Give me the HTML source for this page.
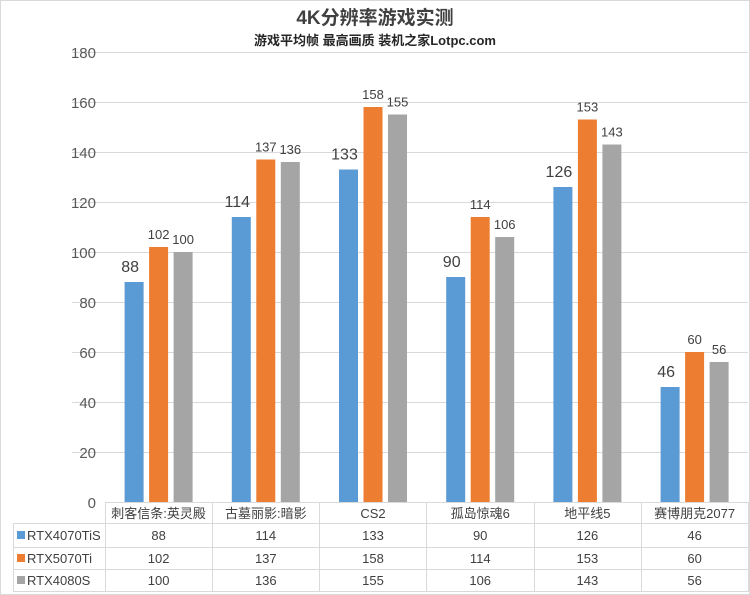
<!DOCTYPE html>
<html><head><meta charset="utf-8"><style>
body{margin:0;background:#fff}
svg{display:block;font-family:"Liberation Sans","Noto Sans CJK SC",sans-serif}
</style></head><body>
<svg width="750" height="595" viewBox="0 0 750 595" xmlns="http://www.w3.org/2000/svg">
<rect x="0.5" y="0.5" width="749" height="594" fill="#fff" stroke="#d9d9d9"/>
<text x="375" y="24" text-anchor="middle" font-size="19" font-weight="bold" fill="#404040">4K分辨率游戏实测</text>
<text x="375" y="45" text-anchor="middle" font-size="13" font-weight="bold" fill="#262626">游戏平均帧 最高画质 装机之家Lotpc.com</text>
<g stroke="#d9d9d9" stroke-width="1">
<line x1="72" x2="748" y1="52.5" y2="52.5"/><line x1="72" x2="748" y1="102.5" y2="102.5"/>
<line x1="72" x2="748" y1="152.5" y2="152.5"/><line x1="72" x2="748" y1="202.5" y2="202.5"/>
<line x1="72" x2="748" y1="252.5" y2="252.5"/><line x1="72" x2="748" y1="302.5" y2="302.5"/>
<line x1="72" x2="748" y1="352.5" y2="352.5"/><line x1="72" x2="748" y1="402.5" y2="402.5"/>
<line x1="72" x2="748" y1="452.5" y2="452.5"/>
</g>
<g font-size="15" fill="#595959" text-anchor="end">
<text x="96" y="58">180</text><text x="96" y="108">160</text><text x="96" y="158">140</text>
<text x="96" y="208">120</text><text x="96" y="258">100</text><text x="96" y="308">80</text>
<text x="96" y="358">60</text><text x="96" y="408">40</text><text x="96" y="458">20</text><text x="96" y="508">0</text>
</g>
<g id="bars"></g>
<g font-size="15" fill="#404040" text-anchor="middle" id="labels"></g>
<g stroke="#d9d9d9" fill="none">
<line x1="105" x2="748" y1="502.5" y2="502.5"/>
<line x1="13" x2="748" y1="523.5" y2="523.5"/>
<line x1="13" x2="748" y1="547.5" y2="547.5"/>
<line x1="13" x2="748" y1="569.5" y2="569.5"/>
<line x1="13" x2="748" y1="591.5" y2="591.5"/>
<line x1="13.5" x2="13.5" y1="523" y2="592"/>
<line x1="105.5" x2="105.5" y1="502" y2="592"/>
<line x1="212.5" x2="212.5" y1="502" y2="592"/>
<line x1="319.5" x2="319.5" y1="502" y2="592"/>
<line x1="426.5" x2="426.5" y1="502" y2="592"/>
<line x1="534.5" x2="534.5" y1="502" y2="592"/>
<line x1="641.5" x2="641.5" y1="502" y2="592"/>
<line x1="748.5" x2="748.5" y1="502" y2="592"/>
</g>
<rect x="17" y="531" width="8" height="8" fill="#5b9bd5"/>
<rect x="17" y="554" width="8" height="8" fill="#ed7d31"/>
<rect x="17" y="576" width="8" height="8" fill="#a5a5a5"/>
<g font-size="13" fill="#404040">
<text x="27" y="540">RTX4070TiS</text><text x="27" y="563">RTX5070Ti</text><text x="27" y="585">RTX4080S</text>
</g>
<g font-size="13" fill="#404040" text-anchor="middle" id="tbl"></g>
<script>
var cats=["刺客信条:英灵殿","古墓丽影:暗影","CS2","孤岛惊魂6","地平线5","赛博朋克2077"];
var d=[[88,114,133,90,126,46],[102,137,158,114,153,60],[100,136,155,106,143,56]];
var col=["#5b9bd5","#ed7d31","#a5a5a5"];
var ns="http://www.w3.org/2000/svg";
var B=document.getElementById("bars"),L=document.getElementById("labels"),T=document.getElementById("tbl");
function el(p,t,a,txt){var e=document.createElementNS(ns,t);for(var k in a)e.setAttribute(k,a[k]);if(txt!=null)e.textContent=txt;p.appendChild(e);}
for(var i=0;i<6;i++){var c=105+107.2*(i+0.5);
 el(T,"text",{x:c,y:518},cats[i]);
 for(var s=0;s<3;s++){var v=d[s][i],h=v*2.5,x=c-34+s*24.5;
  el(B,"rect",{x:x,y:502-h,width:19,height:h,fill:col[s]});
  el(L,"text",{x:x+9.5+(s==0?-4:0),y:502-h-(s==0?10:8),"font-size":s==0?16:13},v);
  el(T,"text",{x:c,y:[540,563,585][s]},v);}}
</script>
</svg>
</body></html>
